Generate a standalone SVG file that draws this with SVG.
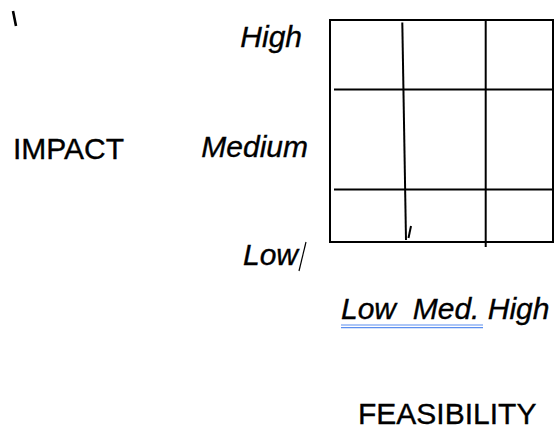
<svg xmlns="http://www.w3.org/2000/svg" width="556" height="431" viewBox="0 0 556 431">
  <style>
    .lbl { font-family: "Liberation Sans", Arial, sans-serif; font-size: 30px; fill: #000; stroke: #000; stroke-width: 0.35; }
    .it { font-style: italic; }
    .grid { stroke: #000; stroke-width: 2; fill: none; }
    .mark { stroke: #000; fill: none; }
    .uline { stroke: #5a8ef0; stroke-width: 1.2; }
  </style>
  <rect x="0" y="0" width="556" height="431" fill="#fff"/>

  <!-- stray pen marks -->
  <line class="mark" x1="13" y1="11" x2="16" y2="26" stroke-width="2.6"/>
  <line class="mark" x1="306" y1="242" x2="299" y2="271" stroke-width="1.2"/>

  <!-- axis title: impact -->
  <g id="impact-axis">
    <text class="lbl" x="13" y="159">IMPACT</text>
    <text class="lbl it" x="302" y="47" text-anchor="end">High</text>
    <text class="lbl it" x="308" y="157" text-anchor="end">Medium</text>
    <text class="lbl it" x="298" y="265" text-anchor="end">Low</text>
  </g>

  <!-- 3x3 matrix -->
  <g id="matrix">
    <rect class="grid" x="330" y="20" width="223" height="222"/>
    <line class="grid" x1="334" y1="89.5" x2="552" y2="89.5"/>
    <line class="grid" x1="334" y1="189.5" x2="553" y2="189.5"/>
    <line class="grid" x1="485.7" y1="20" x2="485.7" y2="247"/>
    <line class="grid" x1="402.3" y1="22.5" x2="406" y2="240"/>
    <line class="grid" x1="408.5" y1="238" x2="411" y2="226" stroke-width="2.4"/>
  </g>

  <!-- axis title: feasibility -->
  <g id="feasibility-axis">
    <text class="lbl it" x="341" y="319" xml:space="preserve">Low  Med. High</text>
    <line class="uline" x1="341" y1="325" x2="483" y2="325"/>
    <line class="uline" x1="341" y1="327.6" x2="483" y2="327.6"/>
    <text class="lbl" x="358" y="424">FEASIBILITY</text>
  </g>
</svg>
